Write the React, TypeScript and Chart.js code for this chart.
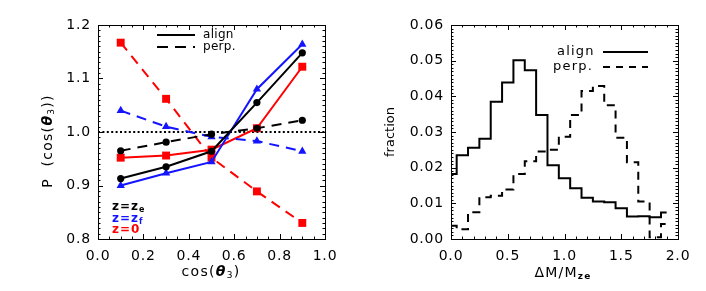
import React, { useEffect, useRef } from 'react';
import { Chart, registerables } from 'chart.js';
Chart.register(...registerables);

// ---------- data: left panel ----------
const cosTheta = [0.1, 0.3, 0.5, 0.7, 0.9];
const zeAlign = [0.913, 0.935, 0.964, 1.055, 1.148];
const zePerp = [0.965, 0.981, 0.996, 1.007, 1.022];
const zfAlign = [0.9, 0.923, 0.944, 1.08, 1.164];
const zfPerp = [1.04, 1.01, 0.991, 0.983, 0.964];
const z0Align = [0.952, 0.956, 0.967, 1.007, 1.122];
const z0Perp = [1.167, 1.062, 0.952, 0.889, 0.83];
const refLevel = 1.0;

// ---------- data: right panel ----------
const massBins = [0.0, 0.1, 0.2, 0.3, 0.4, 0.5, 0.6, 0.7, 0.8, 0.9, 1.0, 1.1, 1.2, 1.3, 1.4, 1.5, 1.6, 1.7, 1.8, 1.9];
const alignFrac = [0.0182, 0.0235, 0.0256, 0.0281, 0.0385, 0.0439, 0.0501, 0.0473, 0.0348, 0.0207, 0.017, 0.0142, 0.0116, 0.0105, 0.0103, 0.0086, 0.0063, 0.0064, 0.0061, 0.0074];
const perpFrac = [0.0037, 0.0027, 0.0075, 0.0117, 0.0121, 0.0139, 0.0182, 0.0218, 0.0245, 0.025, 0.0287, 0.0348, 0.0415, 0.0429, 0.0375, 0.0284, 0.0215, 0.0105, 0.0005, 0.0042];

const BLACK = '#000000';
const BLUE = '#1414ff';
const RED = '#ff0000';
const FAM = '"DejaVu Sans", sans-serif';
const W = 353;
const H = 291;

type Part = { t: string; font: string; dy?: number; color?: string };

function drawParts(ctx: CanvasRenderingContext2D, parts: Part[], x: number, y: number, align: 'left' | 'center', spacing: number) {
  ctx.save();
  (ctx as any).letterSpacing = spacing + 'px';
  ctx.textBaseline = 'middle';
  ctx.textAlign = 'left';
  let total = 0;
  const widths = parts.map((p) => {
    ctx.font = p.font;
    const w = ctx.measureText(p.t).width;
    total += w;
    return w;
  });
  let cx = align === 'center' ? x - total / 2 : x;
  parts.forEach((p, i) => {
    ctx.font = p.font;
    ctx.fillStyle = p.color || BLACK;
    ctx.fillText(p.t, cx, y + (p.dy || 0));
    cx += widths[i];
  });
  ctx.restore();
}

function line(ctx: CanvasRenderingContext2D, x1: number, y1: number, x2: number, y2: number, dash: number[], width = 2) {
  ctx.save();
  ctx.strokeStyle = BLACK;
  ctx.lineWidth = width;
  ctx.setLineDash(dash);
  ctx.beginPath();
  ctx.moveTo(x1, y1);
  ctx.lineTo(x2, y2);
  ctx.stroke();
  ctx.restore();
}

type TickSpec = { min: number; minor: number; count: number; every: number };

function makeFramePlugin(xs: TickSpec, ys: TickSpec, annotate: (ctx: CanvasRenderingContext2D) => void) {
  return {
    id: 'frameTicks',
    beforeDraw(chart: any) {
      (chart.ctx as any).letterSpacing = '0.8px';
    },
    afterDatasetsDraw(chart: any) {
      const { ctx, chartArea: a, scales } = chart;
      ctx.save();
      ctx.strokeStyle = BLACK;
      ctx.lineWidth = 1;
      ctx.setLineDash([]);
      ctx.strokeRect(Math.round(a.left) + 0.5, Math.round(a.top) + 0.5, Math.round(a.right - a.left), Math.round(a.bottom - a.top));
      ctx.beginPath();
      for (let i = 0; i <= xs.count; i++) {
        const p = Math.round(scales.x.getPixelForValue(xs.min + i * xs.minor)) + 0.5;
        const len = i % xs.every === 0 ? 5 : 2.5;
        ctx.moveTo(p, a.bottom);
        ctx.lineTo(p, a.bottom - len);
        ctx.moveTo(p, a.top);
        ctx.lineTo(p, a.top + len);
      }
      for (let i = 0; i <= ys.count; i++) {
        const p = Math.round(scales.y.getPixelForValue(ys.min + i * ys.minor)) + 0.5;
        const len = i % ys.every === 0 ? 5 : 2.5;
        ctx.moveTo(a.left, p);
        ctx.lineTo(a.left + len, p);
        ctx.moveTo(a.right, p);
        ctx.lineTo(a.right - len, p);
      }
      ctx.stroke();
      ctx.restore();
      annotate(ctx);
    },
    afterDraw(chart: any) {
      (chart.ctx as any).letterSpacing = '0px';
    },
  };
}

function baseScales(xmin: number, xmax: number, xstep: number, xdec: number, ymin: number, ymax: number, ystep: number, ydec: number) {
  const tickFont = { family: FAM, size: 14 };
  return {
    x: {
      type: 'linear',
      min: xmin,
      max: xmax,
      grid: { display: false, drawTicks: false },
      border: { display: false },
      ticks: { stepSize: xstep, padding: 9, font: tickFont, color: BLACK, maxRotation: 0, autoSkip: false, callback: (v: any) => Number(v).toFixed(xdec) },
      afterFit: (s: any) => { s.height = 52; },
    },
    y: {
      type: 'linear',
      min: ymin,
      max: ymax,
      grid: { display: false, drawTicks: false },
      border: { display: false },
      ticks: { stepSize: ystep, padding: 7, font: tickFont, color: BLACK, autoSkip: false, callback: (v: any) => Number(v).toFixed(ydec) },
      afterFit: (s: any) => { s.width = 98; },
    },
  };
}

const commonOpts = {
  responsive: false,
  maintainAspectRatio: false,
  devicePixelRatio: 1,
  animation: false,
  events: [],
  layout: { padding: { left: 0, top: 25, right: 28, bottom: 0 } },
  plugins: { legend: { display: false }, tooltip: { enabled: false }, title: { display: false } },
};

function leftConfig(): any {
  const mk = (ys: number[], color: string, dashed: boolean, style: string, radius: number) => ({
    data: cosTheta.map((x, i) => ({ x, y: ys[i] })),
    borderColor: color,
    backgroundColor: color,
    borderWidth: 2,
    borderDash: dashed ? [10, 7] : [],
    pointStyle: style,
    pointRadius: radius,
    pointBackgroundColor: color,
    pointBorderColor: color,
    pointBorderWidth: 0,
    tension: 0,
  });
  const annotate = (ctx: CanvasRenderingContext2D) => {
    // line-style legend
    line(ctx, 157, 35, 195, 35, []);
    line(ctx, 157, 47, 195, 47, [11, 7]);
    drawParts(ctx, [{ t: 'align', font: `12px ${FAM}` }], 203, 35, 'left', 0.3);
    drawParts(ctx, [{ t: 'perp.', font: `12px ${FAM}` }], 203, 47, 'left', 0.3);
    // colour legend
    const b = `bold 12px ${FAM}`;
    const s = `bold 8px ${FAM}`;
    drawParts(ctx, [{ t: 'z=z', font: b, color: BLACK }, { t: 'e', font: s, dy: 3, color: BLACK }], 112, 207, 'left', 1);
    drawParts(ctx, [{ t: 'z=z', font: b, color: BLUE }, { t: 'f', font: s, dy: 3, color: BLUE }], 112, 218.5, 'left', 1);
    drawParts(ctx, [{ t: 'z=0', font: b, color: RED }], 112, 229.5, 'left', 1);
    // axis titles
    const f = `14px ${FAM}`;
    const th = `italic bold 14px ${FAM}`;
    const sub = `9px ${FAM}`;
    drawParts(ctx, [{ t: 'cos(', font: f }, { t: 'θ', font: th }, { t: '3', font: sub, dy: 4 }, { t: ')', font: f }], 211, 272, 'center', 1.3);
    ctx.save();
    ctx.translate(48, 141);
    ctx.rotate(-Math.PI / 2);
    drawParts(ctx, [{ t: 'P  (cos(', font: f }, { t: 'θ', font: th }, { t: '3', font: sub, dy: 4 }, { t: '))', font: f }], 0, 0, 'center', 1.3);
    ctx.restore();
  };
  return {
    type: 'line',
    data: {
      datasets: [
        mk(zeAlign, BLACK, false, 'circle', 3.6),
        mk(zePerp, BLACK, true, 'circle', 3.6),
        mk(zfAlign, BLUE, false, 'triangle', 4.8),
        mk(zfPerp, BLUE, true, 'triangle', 4.8),
        mk(z0Align, RED, false, 'rect', 5.6),
        mk(z0Perp, RED, true, 'rect', 5.6),
        {
          data: [{ x: 0, y: refLevel }, { x: 1, y: refLevel }],
          borderColor: BLACK,
          borderWidth: 2,
          borderDash: [2, 2.4],
          pointRadius: 0,
        },
      ],
    },
    options: { ...commonOpts, scales: baseScales(0, 1, 0.2, 1, 0.8, 1.2, 0.1, 1) },
    plugins: [makeFramePlugin({ min: 0, minor: 0.05, count: 20, every: 4 }, { min: 0.8, minor: 0.01, count: 40, every: 10 }, annotate)],
  };
}

function rightConfig(): any {
  const mk = (ys: number[], dashed: boolean) => ({
    data: massBins.map((x, i) => ({ x, y: ys[i] })),
    borderColor: BLACK,
    borderWidth: 2,
    borderDash: dashed ? [8, 6] : [],
    stepped: 'middle',
    pointRadius: 0,
  });
  const annotate = (ctx: CanvasRenderingContext2D) => {
    const lf = `13px ${FAM}`;
    drawParts(ctx, [{ t: 'align', font: lf }], 204, 52, 'left', 1.2);
    drawParts(ctx, [{ t: 'perp.', font: lf }], 200, 67, 'left', 1.2);
    line(ctx, 250, 52, 295, 52, []);
    line(ctx, 250, 67, 295, 67, [7, 6]);
    const f = `14px ${FAM}`;
    drawParts(ctx, [{ t: 'ΔM/M', font: f }, { t: 'ze', font: `bold 9px ${FAM}`, dy: 4 }], 210, 273, 'center', 1.2);
    ctx.save();
    ctx.translate(38, 132);
    ctx.rotate(-Math.PI / 2);
    drawParts(ctx, [{ t: 'fraction', font: `13px ${FAM}` }], 0, 0, 'center', 0);
    ctx.restore();
  };
  return {
    type: 'line',
    data: { datasets: [mk(alignFrac, false), mk(perpFrac, true)] },
    options: { ...commonOpts, scales: baseScales(0, 2, 0.5, 1, 0, 0.06, 0.01, 2) },
    plugins: [makeFramePlugin({ min: 0, minor: 0.1, count: 20, every: 5 }, { min: 0, minor: 0.001, count: 60, every: 10 }, annotate)],
  };
}

function Panel({ build }: { build: () => any }) {
  const ref = useRef<HTMLCanvasElement>(null);
  useEffect(() => {
    const chart = new Chart(ref.current as HTMLCanvasElement, build());
    return () => chart.destroy();
  }, [build]);
  return <canvas ref={ref} width={W} height={H} style={{ display: 'block', width: W, height: H }} />;
}

export default function App() {
  return (
    <div style={{ position: 'absolute', left: 0, top: 0, width: 706, height: 291, display: 'flex', background: '#fff' }}>
      <Panel build={leftConfig} />
      <Panel build={rightConfig} />
    </div>
  );
}
